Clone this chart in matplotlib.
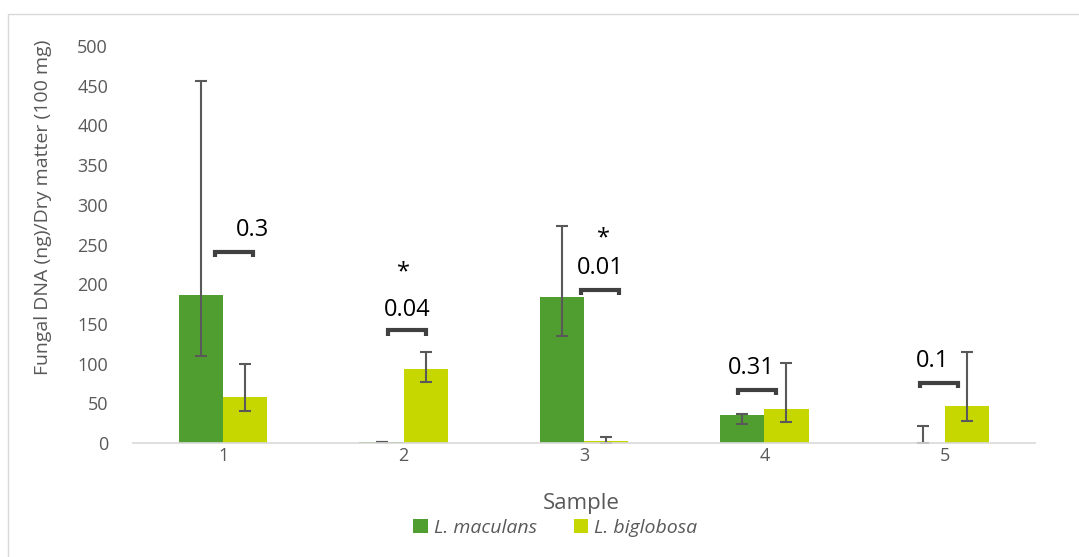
import numpy as np
import matplotlib.pyplot as plt
from matplotlib.patches import Rectangle

plt.rcParams['font.family'] = ['Open Sans', 'DejaVu Sans']

samples = ['1', '2', '3', '4', '5']
maculans = [186, 1, 184, 35, 0]
maculans_lo = [109, 1, 135, 24, 0]
maculans_hi = [456, 1, 273, 36, 21]
biglobosa = [58, 93, 2, 43, 47]
biglobosa_lo = [40, 77, 0, 27, 28]
biglobosa_hi = [99, 114, 7, 101, 114]

p_labels = ['0.3', '0.04', '0.01', '0.31', '0.1']
bracket_y = [241, 142, 193, 67, 76]
label_y = [268, 168, 220, 95, 103]
star = [False, True, True, False, False]
star_y = [0, 215, 258, 0, 0]

c_mac = '#519e30'
c_big = '#c6d700'
grey = '#595959'

fig = plt.figure(figsize=(10.79, 5.57), dpi=100)
ax = fig.add_axes([133/1079, 1-443/557, (1035-133)/1079, (443-46)/557])

x = np.arange(1, 6)
w = 0.245
err_mac = [np.array(maculans) - np.array(maculans_lo), np.array(maculans_hi) - np.array(maculans)]
err_big = [np.array(biglobosa) - np.array(biglobosa_lo), np.array(biglobosa_hi) - np.array(biglobosa)]
ekw = dict(ecolor=grey, elinewidth=1.5, capsize=4, capthick=1.5)
ax.bar(x - w/2, maculans, w, color=c_mac, label='L. maculans', yerr=err_mac, error_kw=ekw)
ax.bar(x + w/2, biglobosa, w, color=c_big, label='L. biglobosa', yerr=err_big, error_kw=ekw)

# significance brackets
for i in range(5):
    xc = x[i] + [0.06, 0.02, 0.09, -0.04, -0.03][i]
    hw = 0.105
    y0 = bracket_y[i]
    ax.plot([xc-hw, xc-hw, xc+hw, xc+hw], [y0-7, y0, y0, y0-7], color='#404040', lw=3,
            solid_joinstyle='miter', solid_capstyle='butt')
    lx = xc + [0.1, 0.0, 0.0, -0.03, -0.04][i]
    ax.text(lx, label_y[i], p_labels[i], ha='center', va='center', fontsize=17, color='black')
    if star[i]:
        ax.text(x[i] + (0.11 if i == 2 else 0.0), star_y[i], '*',
                ha='center', va='center', fontsize=17, color='black')

ax.set_xlim(0.5, 5.5)
ax.set_ylim(0, 500)
ax.set_yticks(np.arange(0, 501, 50))
ax.set_xticks(x)
ax.set_xticklabels(samples)
ax.tick_params(axis='both', length=0, labelsize=13, labelcolor=grey)
ax.tick_params(axis='y', pad=18)
ax.tick_params(axis='x', pad=3)
for s in ['top', 'right', 'left']:
    ax.spines[s].set_visible(False)
ax.spines['bottom'].set_color('#d9d9d9')
ax.spines['bottom'].set_linewidth(1.2)

ax.set_ylabel('Fungal DNA (ng)/Dry matter (100 mg)', fontsize=14, color=grey)
ax.yaxis.set_label_coords(-0.090, 0.594)
ax.set_xlabel('Sample', fontsize=16, color=grey)
ax.xaxis.set_label_coords(0.497, -0.125)

leg = ax.legend(loc='center', bbox_to_anchor=(0.468, -0.213), ncol=2, frameon=False,
                prop={'style': 'italic', 'size': 14}, handlelength=0.75, handleheight=0.75,
                handletextpad=0.3, columnspacing=1.9)
for t in leg.get_texts():
    t.set_color(grey)

fig.patches.append(Rectangle((8/1079, -0.01), 1.0, 1 - 14/557 + 0.01, transform=fig.transFigure,
                             fill=False, edgecolor='#d9d9d9', lw=1))

fig.savefig('out.png', dpi=100)
